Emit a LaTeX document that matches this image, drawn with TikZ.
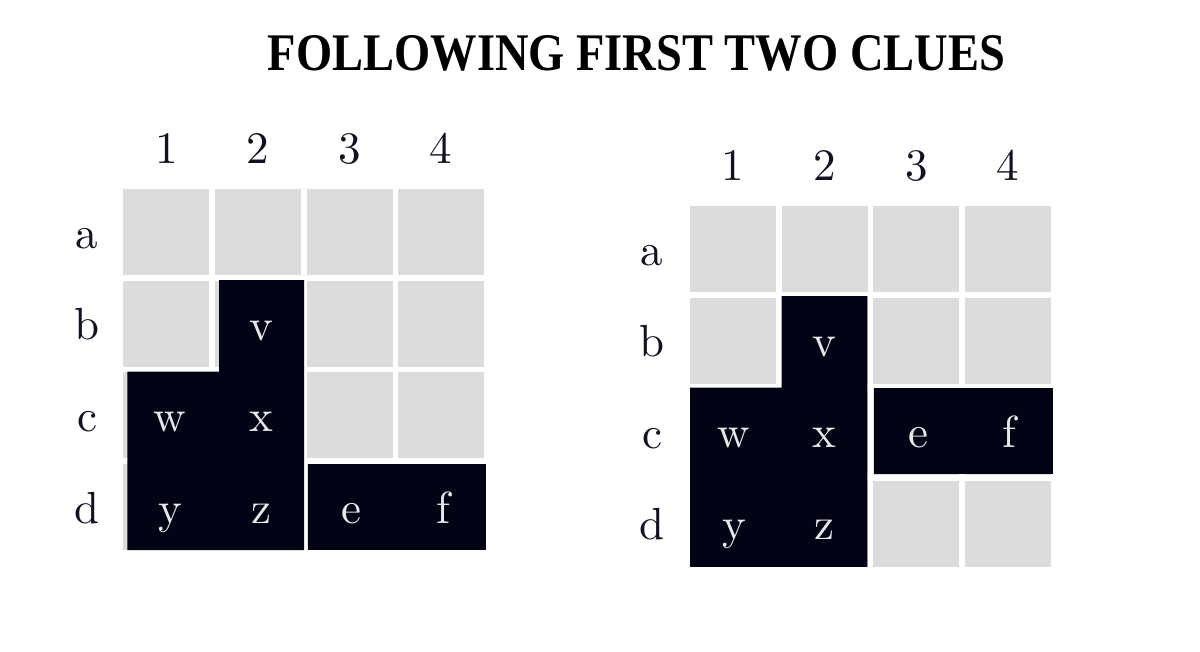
\documentclass[tikz,border=0pt]{standalone}
\usepackage{fontspec}
\newfontfamily\titlefont{Liberation Serif}
\definecolor{cellgray}{HTML}{DCDCDC}
\definecolor{blockdark}{HTML}{030316}
\definecolor{labelink}{HTML}{111122}
\definecolor{letterink}{HTML}{E8E8E8}
\newcommand{\bigletter}[1]{\scalebox{4.5}{\fontsize{10}{12}\selectfont #1}}
\begin{document}
\begin{tikzpicture}[x=1pt,y=-1pt,
  graycell/.style={fill=cellgray},
  darkblock/.style={fill=blockdark},
  axislabel/.style={inner sep=0pt,anchor=base,text=labelink},
  celllabel/.style={inner sep=0pt,anchor=base,text=letterink},
  titlelabel/.style={inner sep=0pt,anchor=base,text=black}]
\useasboundingbox (0,0) rectangle (1200,651);
\fill[white] (0,0) rectangle (1200,651);
% title
\node[titlelabel] (title) at (636.5,70) {\resizebox{737pt}{35pt}{\titlefont\bfseries FOLLOWING FIRST TWO CLUES}};
% ---------- left grid ----------
\foreach \c in {0,1,2,3}{
  \foreach \r in {0,1,2,3}{
    \fill[graycell] ({123.3+91.6*\c},{189+91.7*\r}) rectangle +(86,86);
  }
}
\fill[darkblock] (219,280) -- (304,280) -- (304,550.2) -- (127.3,550.2) -- (127.3,371.7) -- (219,371.7) -- cycle;
\fill[darkblock] (307.7,464) rectangle (486,550.2);
\foreach \t [count=\i from 0] in {1,2,3,4}{
  \node[axislabel] (Lcol\t) at ({166.3+91.6*\i},163.5) {\bigletter{\t}};
}
\foreach \t [count=\i from 0] in {a,b,c,d}{
  \node[axislabel] (Lrow\t) at (87,{232+91.7*\i+16}) {\bigletter{\t}};
}
\node[celllabel] (Lv) at (261.5,340) {\bigletter{v}};
\node[celllabel] (Lw) at (170,431.5) {\bigletter{w}};
\node[celllabel] (Lx) at (261.5,431.5) {\bigletter{x}};
\node[celllabel] (Ly) at (170,523) {\bigletter{y}};
\node[celllabel] (Lz) at (261.5,523) {\bigletter{z}};
\node[celllabel] (Le) at (351,523) {\bigletter{e}};
\node[celllabel] (Lf) at (443,523) {\bigletter{f}};
% ---------- right grid ----------
\foreach \c in {0,1,2,3}{
  \foreach \r in {0,1,2,3}{
    \fill[graycell] ({690+91.7*\c},{206+91.6*\r}) rectangle +(86,86);
  }
}
\fill[darkblock] (781.7,296) -- (867.3,296) -- (867.3,566.8) -- (690,566.8) -- (690,387.7) -- (781.7,387.7) -- cycle;
\fill[darkblock] (874.3,387.7) rectangle (1052.7,474);
\foreach \t [count=\i from 0] in {1,2,3,4}{
  \node[axislabel] (Rcol\t) at ({733+91.7*\i},180) {\bigletter{\t}};
}
\foreach \t [count=\i from 0] in {a,b,c,d}{
  \node[axislabel] (Rrow\t) at (652,{249+91.6*\i+16}) {\bigletter{\t}};
}
\node[celllabel] (Rv) at (824.5,356) {\bigletter{v}};
\node[celllabel] (Rw) at (734,447.5) {\bigletter{w}};
\node[celllabel] (Rx) at (824.5,447.5) {\bigletter{x}};
\node[celllabel] (Ry) at (734,539) {\bigletter{y}};
\node[celllabel] (Rz) at (824.5,539) {\bigletter{z}};
\node[celllabel] (Re) at (918,447.5) {\bigletter{e}};
\node[celllabel] (Rf) at (1009,447.5) {\bigletter{f}};
\end{tikzpicture}
\end{document}
